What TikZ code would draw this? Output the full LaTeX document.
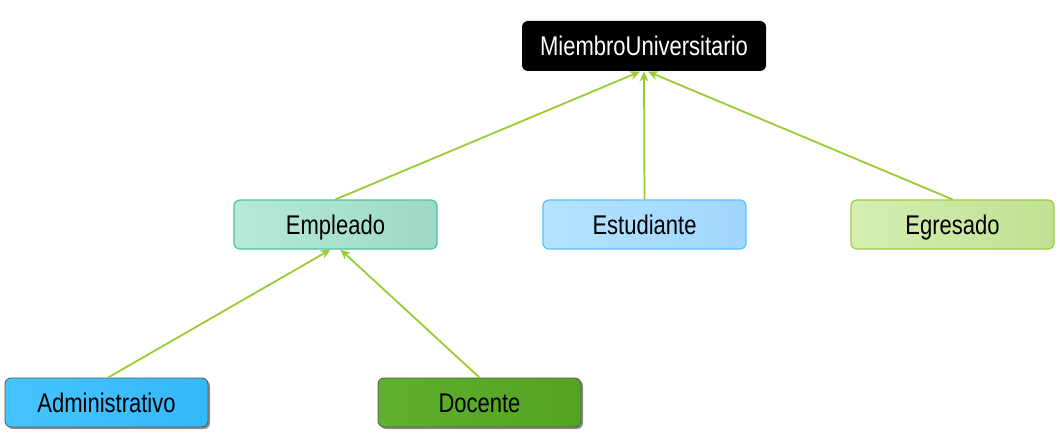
\documentclass[tikz,border=0pt]{standalone}
\usepackage{fontspec}
\setmainfont{Liberation Sans}[FakeStretch=0.815]
\usetikzlibrary{arrows.meta,shadows}
\definecolor{arrowgreen}{HTML}{99CC33}
\definecolor{empB}{HTML}{4CC4A0}
\definecolor{estB}{HTML}{55C3F5}
\definecolor{egrB}{HTML}{9CCC40}
\definecolor{boxgray}{HTML}{555555}
\begin{document}
\begin{tikzpicture}[x=1pt,y=-1pt,
  box/.style={rounded corners=6pt, minimum width=203pt, minimum height=49pt, line width=1.2pt, inner sep=0pt, font=\fontsize{27}{29}\selectfont, text height=19pt, text depth=0pt, text=black},
  shbox/.style={box, draw=boxgray, line width=0.8pt, drop shadow={shadow xshift=2pt, shadow yshift=-2pt, opacity=0.45, fill=black}},
  link/.style={draw=arrowgreen, line width=1.8pt, -{Stealth[length=10pt,width=9pt]}}
]
\useasboundingbox (0,0) rectangle (1060,436);
\node[box, fill=black, text=white, minimum width=244pt, minimum height=50pt] (m) at (644,46) {MiembroUniversitario};
\node[box, draw=empB, left color={rgb,255:red,181;green,234;blue,216}, right color={rgb,255:red,158;green,217;blue,196}] (emp) at (335.5,224.5) {Empleado};
\node[box, draw=estB, left color={rgb,255:red,180;green,227;blue,255}, right color={rgb,255:red,160;green,214;blue,255}] (est) at (644.5,224.5) {Estudiante};
\node[box, draw=egrB, left color={rgb,255:red,213;green,238;blue,178}, right color={rgb,255:red,192;green,225;blue,146}] (egr) at (952.5,224.5) {Egresado};
\node[shbox, left color={rgb,255:red,70;green,196;blue,255}, right color={rgb,255:red,52;green,184;blue,250}] (adm) at (106.5,402.5) {Administrativo};
\node[shbox, left color={rgb,255:red,96;green,176;blue,48}, right color={rgb,255:red,84;green,164;blue,34}] (doc) at (479.5,402.5) {Docente};
\draw[link] (emp.north) -- ([xshift=-4pt]m.south);
\draw[link] (est.north) -- (m.south);
\draw[link] (egr.north) -- ([xshift=4pt]m.south);
\draw[link] ([xshift=1.5pt]adm.north) -- ([xshift=-5pt]emp.south);
\draw[link] (doc.north) -- ([xshift=5pt]emp.south);
\end{tikzpicture}
\end{document}
